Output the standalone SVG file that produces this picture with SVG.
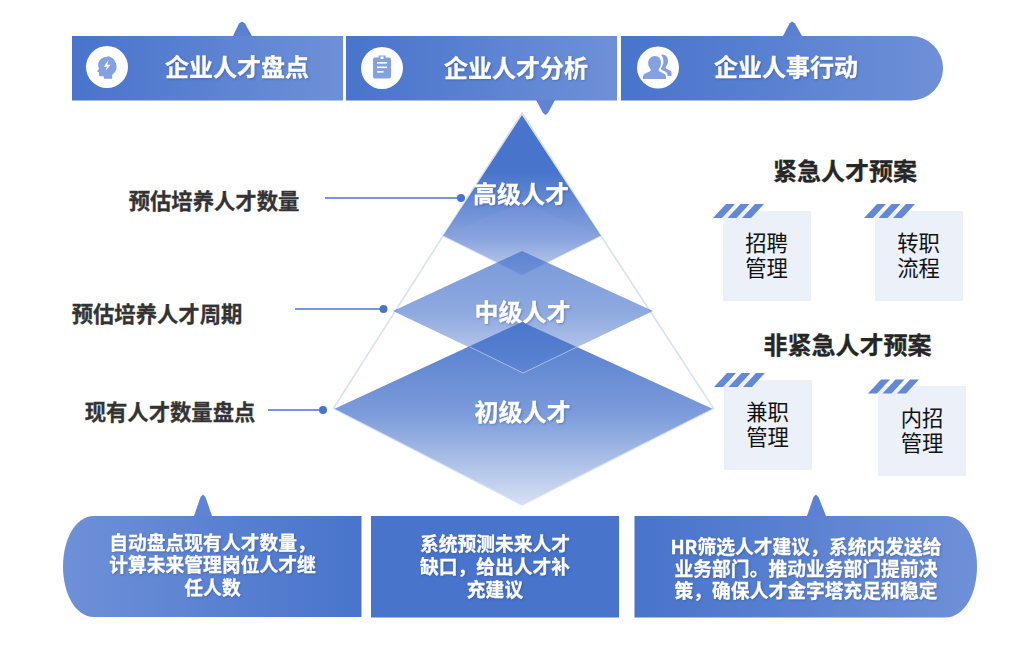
<svg xmlns="http://www.w3.org/2000/svg" width="1020" height="653" viewBox="0 0 1020 653">
<style>
text{font-family:"Noto Sans CJK SC","Noto Sans",sans-serif;text-anchor:middle}
.w{font-weight:700;fill:#fff;stroke:#fff;stroke-width:.3;filter:drop-shadow(1px 1px 1px rgba(40,60,110,.35))}
.h{font-size:24px}
.s{font-size:18.8px}
.l{font-size:21.33px;font-weight:700;fill:#333;stroke:#333;stroke-width:.3}
.t{font-size:24px;font-weight:700;fill:#262626;stroke:#262626;stroke-width:.3}
.b{font-size:21.33px;fill:#111}
.box{fill:#ebf0f9}
.st{fill:#6288d6}
.ln{stroke:#4874cb;stroke-width:1.4;fill:none}
.dot{fill:#4874cb}
.ic{fill:#83a1e0}
</style>
<defs>
<linearGradient id="lr" x1="0" x2="1" y1="0" y2="0"><stop offset="0" stop-color="#4874cb"/><stop offset="1" stop-color="#6e90d8"/></linearGradient>
<linearGradient id="rl" x1="1" x2="0" y1="0" y2="0"><stop offset="0" stop-color="#4874cb"/><stop offset="1" stop-color="#6e90d8"/></linearGradient>
<linearGradient id="g1" gradientUnits="userSpaceOnUse" x1="0" x2="0" y1="115" y2="240"><stop offset="0" stop-color="#4874cb"/><stop offset=".45" stop-color="#4874cb"/><stop offset="1" stop-color="#4874cb" stop-opacity=".65"/></linearGradient>
<linearGradient id="g1b" gradientUnits="userSpaceOnUse" x1="0" x2="0" y1="202" y2="275"><stop offset="0" stop-color="#6c8dd6"/><stop offset=".5" stop-color="#89a4de"/><stop offset="1" stop-color="#c0cfed"/></linearGradient>
<linearGradient id="g2" gradientUnits="userSpaceOnUse" x1="0" x2="0" y1="251" y2="373"><stop offset="0" stop-color="#4874cb" stop-opacity=".74"/><stop offset=".5" stop-color="#4874cb" stop-opacity=".62"/><stop offset="1" stop-color="#4874cb" stop-opacity=".3"/></linearGradient>
<linearGradient id="g3" gradientUnits="userSpaceOnUse" x1="0" x2="0" y1="322" y2="505"><stop offset="0" stop-color="#4874cb" stop-opacity=".95"/><stop offset=".5" stop-color="#4874cb" stop-opacity=".72"/><stop offset="1" stop-color="#4874cb" stop-opacity=".22"/></linearGradient>
<polygon id="stripe" points="0,14 9,14 22,0 13,0"/>
<g id="stripes" class="st"><use href="#stripe"/><use href="#stripe" x="14.5"/><use href="#stripe" x="29"/></g>
</defs>

<g id="connectors">
<line class="ln" x1="325" y1="198" x2="461" y2="198"/><circle class="dot" cx="461" cy="198" r="4"/>
<line class="ln" x1="295" y1="309" x2="383" y2="309"/><circle class="dot" cx="383.500" cy="309" r="4"/>
<line class="ln" x1="268" y1="410" x2="323" y2="410"/><circle class="dot" cx="323" cy="410" r="4"/>
</g>

<g id="header-1">
<polygon fill="#5a80d1" points="233,36 239,23.500 242,21.500 245,23.500 252,36"/>
<rect x="72" y="36" width="271" height="64.500" fill="url(#lr)"/>
<circle cx="107" cy="67" r="21" fill="#fff"/>
<g transform="translate(107 67.500) scale(.8) translate(-107.500 -68.500)">
<path class="ic" d="M108 55c-7 0-11.500 5-11.500 10.500 0 2 .5 3.500 1 4.500l-2.500 3.500 2.500 1v3c0 1.500 1 2 2.500 2h3.500v3h10.500v-5c3-2 5.500-5.500 5.500-9.500 0-7-5-13.500-11.500-13.500z"/>
<polygon fill="#fff" points="109.500,59 103.500,67.500 107.500,67.500 105.500,73 112,65 108,65"/>
</g>
<text class="w h" x="237" y="75.500">企业人才盘点</text>
</g>
<g id="header-2">
<rect x="346" y="36" width="271" height="64.500" fill="url(#lr)"/>
<polygon fill="#6084d3" points="536,100 555,100 548,113 545.500,115 543,113"/>
<circle cx="382" cy="68" r="21" fill="#fff"/>
<path class="ic" d="M375 57.500h3.500v-2h7v2h3.500c1.200 0 2 .8 2 2v17c0 1.200-.8 2-2 2h-14c-1.200 0-2-.8-2-2v-17c0-1.200.8-2 2-2z"/>
<g fill="#fff"><rect x="380.500" y="56.500" width="3" height="2.500"/><rect x="377" y="62" width="10" height="1.600"/><rect x="377" y="66.500" width="10" height="1.600"/><rect x="377" y="71" width="6.500" height="1.600"/></g>
<text class="w h" x="516" y="77">企业人才分析</text>
</g>
<g id="header-3">
<polygon fill="#5a80d1" points="783,36 789.500,23.500 792,21.500 795,23.500 802,36"/>
<path fill="url(#lr)" d="M621 36H911a32 32 0 0 1 32 32.250a32 32 0 0 1-32 32.250H621z"/>
<circle cx="658" cy="67.500" r="21" fill="#fff"/>
<path class="ic" d="M655 56c4 0 6 3 6 7 0 2.500-1 4.500-2.300 6-.6 1 0 2 1.300 2.700l4 2c1.200.7 2 1.500 2 2.800v2.500h-23v-2.500c0-1.300.8-2.100 2-2.800l4.500-2.200c1.200-.6 1.700-1.500 1-2.500-1.300-1.500-2.300-3.500-2.300-6 0-4 2.800-7 6.800-7z"/>
<path class="ic" d="M662 54.500c3.700 0 6 2.800 6 6.500 0 2.400-1 4.200-2.100 5.700-.6 1 0 1.800 1.100 2.300l3 1.600c1 .6 1.500 1.300 1.500 2.400v3h-3.800c0-2.200-1-3.500-2.700-4.400l-3.400-1.800c-.8-.5-1-1-.5-1.700 1.400-1.800 2.300-4 2.300-6.600 0-2.500-.8-4.800-2.300-6.400.8-.4 1.800-.6 2.900-.6z"/>
<text class="w h" x="786" y="75.500">企业人事行动</text>
</g>

<g id="pyramid-outline">
<polyline points="443,236 333,409" fill="none" stroke="#d7e1f5" stroke-width="1.500"/>
<polyline points="601,236 714,409" fill="none" stroke="#d7e1f5" stroke-width="1.500"/>
<polyline points="443,236 522,113 601,236" fill="none" stroke="#d7e1f5" stroke-width="1.500"/>
</g>
<g id="level-high">
<polygon points="522,115 443,236 601,236" fill="url(#g1)"/>
<polygon points="443,236 522,202 601,236 522,275" fill="url(#g1b)"/>
<polyline points="443,236 522,275 601,236" fill="none" stroke="#d7e1f5"/>
<text class="w h" x="521" y="203">高级人才</text>
</g>
<g id="level-mid">
<polygon points="393,311 522,251 653,311 523,373" fill="url(#g2)"/>
<text class="w h" x="522.500" y="320.500">中级人才</text>
</g>
<g id="level-low">
<polygon points="334,409 522,322 713,409 522,505" fill="url(#g3)"/>
<polyline points="334,409 522,505 713,409" fill="none" stroke="#d7e1f5" stroke-width="1.200"/>
<polyline points="470,347 523,373 577,347" fill="none" stroke="#a9bde8"/>
<text class="w h" x="522.500" y="420.500">初级人才</text>
</g>

<g id="label-1"><text class="l" x="214" y="208.500">预估培养人才数量</text></g>
<g id="label-2"><text class="l" x="157" y="321.500">预估培养人才周期</text></g>
<g id="label-3"><text class="l" x="170" y="419.500">现有人才数量盘点</text></g>

<g id="title-urgent"><text class="t" x="845" y="180">紧急人才预案</text></g>
<g id="title-nonurgent"><text class="t" x="847.500" y="354">非紧急人才预案</text></g>

<g id="card-1"><rect class="box" x="723" y="211" width="88" height="90"/><use href="#stripes" x="713" y="204"/>
<text class="b" x="766.500" y="251">招聘</text><text class="b" x="766.500" y="276">管理</text></g>
<g id="card-2"><rect class="box" x="875" y="211" width="88" height="90"/><use href="#stripes" x="864" y="204"/>
<text class="b" x="918.500" y="251">转职</text><text class="b" x="918.500" y="276">流程</text></g>
<g id="card-3"><rect class="box" x="724" y="380" width="88" height="90"/><use href="#stripes" x="714" y="373"/>
<text class="b" x="767.500" y="420">兼职</text><text class="b" x="767.500" y="445">管理</text></g>
<g id="card-4"><rect class="box" x="878" y="386" width="88" height="90"/><use href="#stripes" x="868" y="379.500"/>
<text class="b" x="922" y="426">内招</text><text class="b" x="922" y="451">管理</text></g>

<g id="note-1">
<polygon fill="#5f84d3" points="194,516 200.500,497 203,494.500 205.500,497 212,516"/>
<path fill="url(#rl)" d="M361.500 516H94C75 516 63 540 63 566.500S75 617 94 617H361.500z"/>
<text class="w s" x="212.500" y="549.500">自动盘点现有人才数量，</text>
<text class="w s" x="212.500" y="572">计算未来管理岗位人才继</text>
<text class="w s" x="212.500" y="595">任人数</text>
</g>
<g id="note-2">
<rect x="371" y="516" width="248" height="101.500" fill="#4874cb"/>
<text class="w s" x="495" y="550.500">系统预测未来人才</text>
<text class="w s" x="495" y="573.500">缺口，给出人才补</text>
<text class="w s" x="495" y="596.500">充建议</text>
</g>
<g id="note-3">
<polygon fill="#5c81d2" points="807,516 813.500,497 816,494.500 818.500,497 826,516"/>
<path fill="url(#lr)" d="M634.500 516H945C965 516 977 540 977 566.500S965 617.500 945 617.500H634.500z"/>
<text class="w s" x="806" y="553.500">HR筛选人才建议，系统内发送给</text>
<text class="w s" x="806" y="576">业务部门。推动业务部门提前决</text>
<text class="w s" x="806" y="598">策，确保人才金字塔充足和稳定</text>
</g>
</svg>
